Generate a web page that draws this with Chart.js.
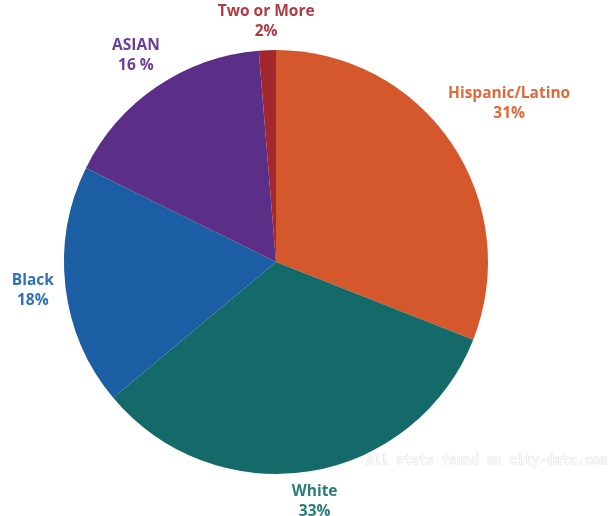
<!DOCTYPE html>
<html lang="en">
<head>
    <meta charset="UTF-8">
    <title>Race and Ethnicity</title>
    <script src="https://cdn.jsdelivr.net/npm/chart.js"></script>
    <style>
        body {
            margin: 0;
            padding: 0;
            background: #ffffff;
        }
        #wrap {
            width: 612px;
            height: 516px;
        }
    </style>
</head>
<body>
    <div id="wrap"><canvas id="raceChart"></canvas></div>

    <script>
        const groups = ['Hispanic/Latino', 'White', 'Black', 'ASIAN', 'Two or More'];
        const shares = [31, 33, 18.4, 16.4, 1.3];
        const pctLabels = ['31%', '33%', '18%', '16 %', '2%'];
        const sliceColors = ['#d4582b', '#136a68', '#1c5ea3', '#5b2e87', '#a3282d'];
        const textColors = ['#e0693a', '#2a7c79', '#2f70b8', '#6a3f98', '#b13a44'];

        // draws the group name + percent outside each slice
        const outerLabels = {
            id: 'outerLabels',
            afterDatasetsDraw(chart) {
                const ctx = chart.ctx;
                const arcs = chart.getDatasetMeta(0).data;
                ctx.save();
                ctx.font = 'bold 15.5px "Open Sans", sans-serif';
                ctx.textAlign = 'center';
                ctx.textBaseline = 'middle';
                arcs.forEach((arc, i) => {
                    const p = arc.getProps(['x', 'y', 'startAngle', 'endAngle', 'outerRadius'], true);
                    const mid = (p.startAngle + p.endAngle) / 2;
                    const w = Math.max(ctx.measureText(groups[i]).width, ctx.measureText(pctLabels[i]).width);
                    const h = 34;
                    const dist = p.outerRadius + 10 + Math.abs(Math.cos(mid)) * w / 2 + Math.abs(Math.sin(mid)) * h / 2;
                    const cx = p.x + Math.cos(mid) * dist;
                    const cy = p.y + Math.sin(mid) * dist;
                    ctx.fillStyle = textColors[i];
                    ctx.fillText(groups[i], cx, cy - 10);
                    ctx.fillText(pctLabels[i], cx, cy + 10);
                });
                // watermark
                ctx.font = '12.5px "DejaVu Sans Mono", monospace';
                ctx.textAlign = 'right';
                ctx.lineWidth = 1;
                ctx.strokeStyle = 'rgba(200,200,200,0.6)';
                ctx.fillStyle = '#ffffff';
                ctx.strokeText('All stats found on city-data.com', 607, 461);
                ctx.fillText('All stats found on city-data.com', 607, 461);
                ctx.restore();
            }
        };

        new Chart(document.getElementById('raceChart'), {
            type: 'pie',
            data: {
                labels: groups,
                datasets: [{
                    data: shares,
                    backgroundColor: sliceColors,
                    borderWidth: 0
                }]
            },
            options: {
                responsive: true,
                maintainAspectRatio: false,
                animation: false,
                layout: {
                    padding: { top: 50, bottom: 42, left: 64, right: 124 }
                },
                plugins: {
                    legend: { display: false },
                    tooltip: { enabled: false }
                }
            },
            plugins: [outerLabels]
        });
    </script>
</body>
</html>
